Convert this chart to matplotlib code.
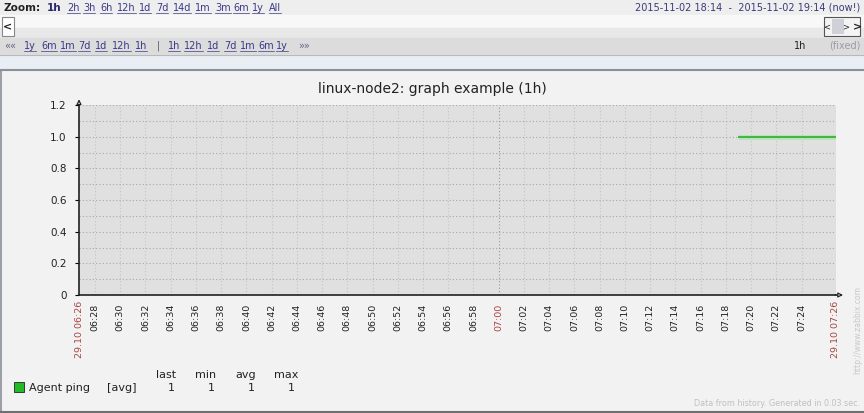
import matplotlib
matplotlib.use("Agg")
import matplotlib.pyplot as plt
import matplotlib.dates as mdates
from matplotlib.patches import Rectangle
import pandas as pd

# chart data
graph_title = "linux-node2: graph example (1h)"
period_start = "2015-10-29 06:26:44"
period_end = "2015-10-29 07:26:44"
ping_times = ["2015-10-29 07:18:56", "2015-10-29 07:19:56", "2015-10-29 07:20:56",
              "2015-10-29 07:21:56", "2015-10-29 07:22:56", "2015-10-29 07:23:56",
              "2015-10-29 07:24:56", "2015-10-29 07:25:56", "2015-10-29 07:26:44"]
ping_values = [1, 1, 1, 1, 1, 1, 1, 1, 1]
y_ticks = [0, 0.2, 0.4, 0.6, 0.8, 1.0, 1.2]
y_tick_labels = ["0", "0.2", "0.4", "0.6", "0.8", "1.0", "1.2"]
legend_name = "Agent ping"
legend_func = "[avg]"
stat_names = ["last", "min", "avg", "max"]
stat_values = ["1", "1", "1", "1"]

zoom_links = ["2h", "3h", "6h", "12h", "1d", "7d", "14d", "1m", "3m", "6m", "1y", "All"]
zoom_x = [67, 83, 100, 117, 139, 156, 173, 195, 215, 233, 252, 269]
nav_links = ["1y", "6m", "1m", "7d", "1d", "12h", "1h", "|", "1h", "12h", "1d", "7d", "1m", "6m", "1y"]
nav_x = [24, 41, 60, 78, 95, 112, 135, 157, 168, 184, 207, 224, 240, 258, 276]
time_range = "2015-11-02 18:14  -  2015-11-02 19:14 (now!)"

W, H = 864, 413
LINK = "#3a3a8a"
RED = "#aa4444"

fig = plt.figure(figsize=(W / 100, H / 100), dpi=100)
fig.patch.set_facecolor("#f2f2f2")

# background layer in pixel coordinates
bg = fig.add_axes([0, 0, 1, 1])
bg.set_xlim(0, W)
bg.set_ylim(H, 0)
bg.axis("off")

# top control bar
bg.add_patch(Rectangle((0, 0), W, 15, color="#eeeeee"))
bg.add_patch(Rectangle((0, 15), W, 23, color="#f8f8f8"))
bg.add_patch(Rectangle((0, 28), W, 10, color="#e8e8e8"))
bg.add_patch(Rectangle((0, 38), W, 17, color="#dcdcdc"))
bg.add_patch(Rectangle((0, 55), W, 15, color="#e9eef5"))
bg.plot([0, W], [55, 55], color="#b8b8b8", lw=0.8)
bg.plot([0, W], [70, 70], color="#8a8f99", lw=1.5)
bg.plot([1, 1], [70, H], color="#8a8f99", lw=1.2)
bg.plot([0, W], [H - 1, H - 1], color="#707070", lw=1.5)

links = []
bg.text(4, 8, "Zoom:", fontsize=7.5, fontweight="bold", color="#222222", va="center")
bg.text(47, 8, "1h", fontsize=7.5, fontweight="bold", color="#2a2a6a", va="center")
for lab, x in zip(zoom_links, zoom_x):
    links.append((bg.text(x, 8, lab, fontsize=7, color=LINK, va="center"), 12.8))
bg.text(W - 4, 8, time_range, fontsize=7, color="#3a3a7a", va="center", ha="right")

# slider buttons
bg.add_patch(Rectangle((2, 17), 12, 19, facecolor="#ffffff", edgecolor="#888888", lw=0.8))
bg.text(8, 27, "<", fontsize=8, fontweight="bold", ha="center", va="center", color="#222222")
bg.add_patch(Rectangle((824, 17), 36, 19, facecolor="#f4f4f4", edgecolor="#555555", lw=0.8))
bg.add_patch(Rectangle((832, 19), 12, 15, facecolor="#d0d0d8", edgecolor="none"))
bg.text(827, 27, "<", fontsize=6, ha="center", va="center", color="#222222")
bg.text(846, 27, ">", fontsize=6, ha="center", va="center", color="#222222")
bg.text(857, 27, ">", fontsize=8, fontweight="bold", ha="center", va="center", color="#222222")

bg.text(4, 46, "««", fontsize=7, color="#666688", va="center")
for lab, x in zip(nav_links, nav_x):
    if lab == "|":
        bg.text(x, 46, lab, fontsize=7, color="#555555", va="center")
        continue
    links.append((bg.text(x, 46, lab, fontsize=7, color=LINK, va="center"), 50.8))
bg.text(298, 46, "»»", fontsize=7, color="#666688", va="center")
bg.text(800, 46, "1h", fontsize=7, color="#222222", va="center", ha="center")
bg.text(W - 4, 46, "(fixed)", fontsize=7, color="#9a9aaa", va="center", ha="right")

# underline links to their drawn width
fig.canvas.draw()
inv = bg.transData.inverted()
for t, yline in links:
    bb = t.get_window_extent()
    x0 = inv.transform((bb.x0, 0))[0]
    x1 = inv.transform((bb.x1, 0))[0]
    bg.plot([x0, x1], [yline, yline], color=LINK, lw=0.5)

# graph title
bg.text(432, 89, graph_title, fontsize=10, color="#222222", ha="center", va="center")

# plot area
left, right, top, bottom = 79, 836, 105, 295
ax = fig.add_axes([left / W, 1 - bottom / H, (right - left) / W, (bottom - top) / H])
ax.set_facecolor("#e0e0e0")
times = pd.to_datetime(ping_times)
t0, t1 = pd.Timestamp(period_start), pd.Timestamp(period_end)
ax.set_xlim(t0, t1)
ax.set_ylim(0, 1.2)

ax.plot(times, ping_values, color="#b6e6b6", lw=3.5, solid_capstyle="butt", zorder=3)
ax.plot(times, ping_values, color="#33aa33", lw=1.2, solid_capstyle="butt", zorder=4)

ax.set_yticks(y_ticks)
ax.set_yticklabels(y_tick_labels, fontsize=7.5, color="#222222")
ax.set_yticks([0.1, 0.3, 0.5, 0.7, 0.9, 1.1], minor=True)
ax.tick_params(axis="y", which="both", length=0, pad=6)
ax.tick_params(axis="y", which="major", length=3, direction="out")

# 2-minute ticks, skipping the ones crowding the period ends
loc = mdates.MinuteLocator(byminute=range(0, 60, 2))
margin = 1.0 / (24 * 60)
xt = [v for v in loc.tick_values(t0, t1)
      if mdates.date2num(t0) + margin < v < mdates.date2num(t1) - margin]
ax.set_xticks(xt)
ax.xaxis.set_major_formatter(mdates.DateFormatter("%H:%M"))
ax.tick_params(axis="x", length=0, pad=6, labelsize=6.8, labelcolor="#222222")
for lab in ax.get_xticklabels():
    lab.set_rotation(90)
    lab.set_va("top")
ax.grid(True, which="both", axis="y", ls=(0, (1, 2)), color="#a8a8a8", lw=0.8)
ax.grid(True, which="major", axis="x", ls=(0, (1, 2)), color="#c4c4c4", lw=0.8)
fig.canvas.draw()
for gl, lab in zip(ax.get_xgridlines(), ax.get_xticklabels()):
    if lab.get_text() == "07:00":
        lab.set_color(RED)
        gl.set_color("#999999")

for s in ["top", "right"]:
    ax.spines[s].set_visible(False)
ax.spines["left"].set_color("#222222")
ax.spines["bottom"].set_color("#222222")
ax.spines["left"].set_linewidth(1.2)
ax.spines["bottom"].set_linewidth(1.2)
# right border dotted
ax.axvline(t1, color="#a8a8a8", ls=(0, (1, 2)), lw=0.8)

# axis arrows
ax.annotate("", xy=(0, 1.045), xytext=(0, 0.99), xycoords="axes fraction",
            arrowprops=dict(arrowstyle="-|>", color="#222222", fc="white", lw=0.9,
                            mutation_scale=7), annotation_clip=False)
ax.annotate("", xy=(1.013, 0), xytext=(0.995, 0), xycoords="axes fraction",
            arrowprops=dict(arrowstyle="-|>", color="#222222", fc="white", lw=0.9,
                            mutation_scale=7), annotation_clip=False)

# period endpoint labels
bg.text(left, bottom + 6, t0.strftime("%d.%m %H:%M"), rotation=90, fontsize=6.8,
        color=RED, ha="center", va="top")
bg.text(right, bottom + 6, t1.strftime("%d.%m %H:%M"), rotation=90, fontsize=6.8,
        color=RED, ha="center", va="top")

# legend
bg.add_patch(Rectangle((14, 382), 10, 10, facecolor="#22bb22", edgecolor="#222222", lw=0.6))
bg.text(29, 388, legend_name, fontsize=8, color="#222222", va="center")
bg.text(107, 388, legend_func, fontsize=8, color="#222222", va="center")
for i, (nm, val) in enumerate(zip(stat_names, stat_values)):
    cx = 166 + i * 40
    bg.text(cx, 375, nm, fontsize=8, color="#222222", ha="center", va="center")
    bg.text(cx + 9, 388, val, fontsize=8, color="#222222", ha="right", va="center")

bg.text(W - 4, 404, "Data from history. Generated in 0.03 sec.", fontsize=5.8,
        color="#c0c0c0", ha="right", va="center")
bg.text(858, 330, "http://www.zabbix.com", fontsize=5.5, color="#c8c8c8",
        rotation=90, ha="center", va="center")

fig.savefig("out.png", dpi=100, facecolor=fig.get_facecolor())
